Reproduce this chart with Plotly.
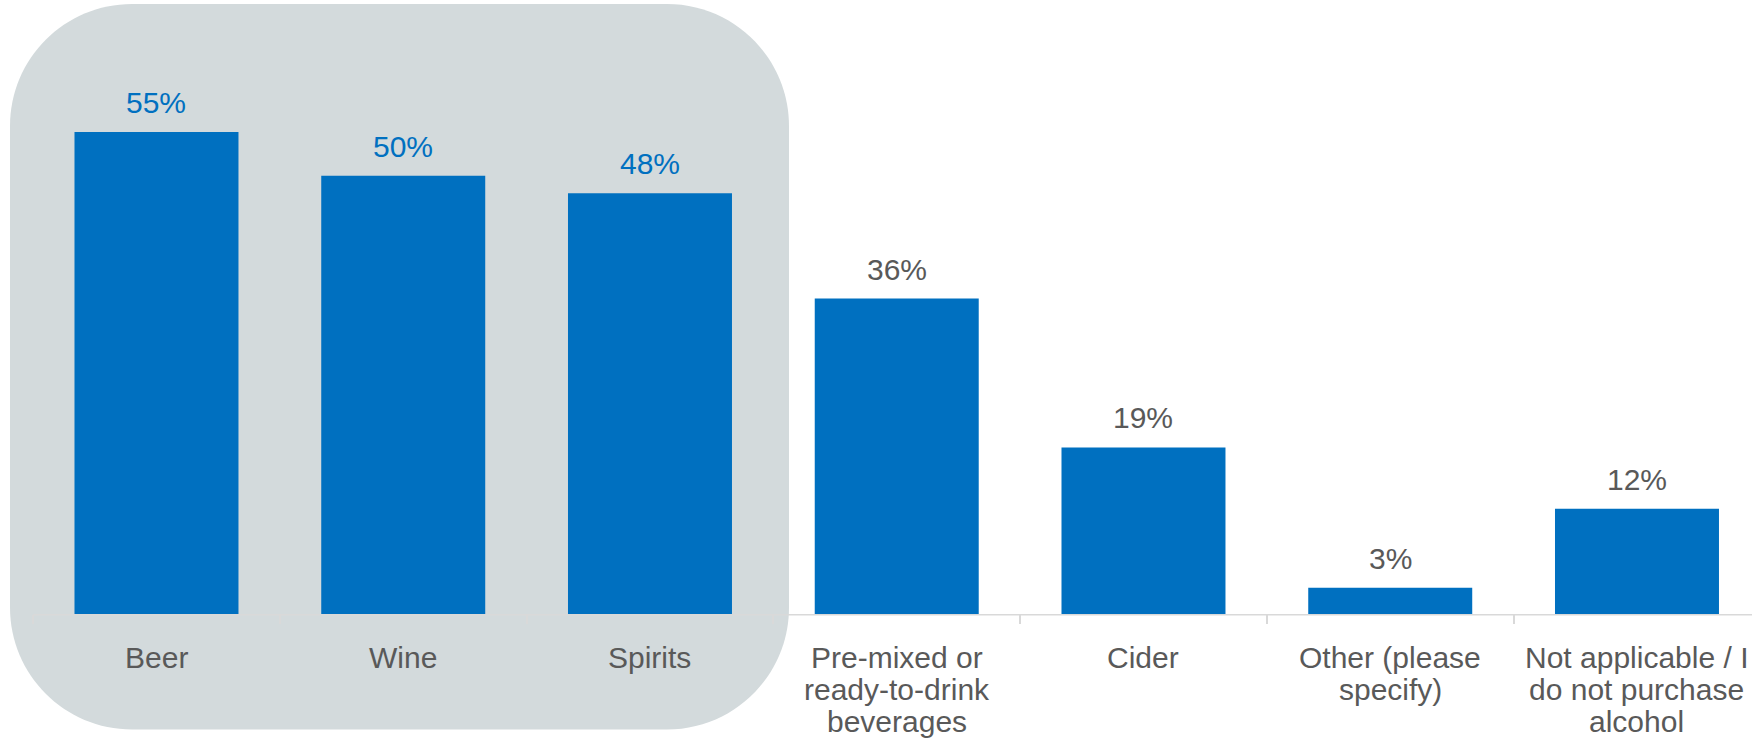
import plotly.graph_objects as go

# Survey data: share of respondents purchasing each drink type
categories = [
    "Beer",
    "Wine",
    "Spirits",
    "Pre-mixed or\nready-to-drink\nbeverages",
    "Cider",
    "Other (please\nspecify)",
    "Not applicable / I\ndo not purchase\nalcohol",
]
values = [55, 50, 48, 36, 19, 3, 12]
highlighted = [True, True, True, False, False, False, False]

BLUE = "#0070C0"
GREY_TEXT = "#595959"
AXIS_GREY = "#D9D9D9"
PANEL = "#D3DADC"
FONT = "Liberation Sans, Arial, sans-serif"

W, H = 1752, 750
MB = 136
PLOT_H = H - MB

keys = [c.replace("\n", " ") for c in categories]

fig = go.Figure()
fig.add_trace(go.Bar(
    x=keys,
    y=values,
    marker=dict(color=BLUE, line=dict(width=0)),
    hoverinfo="skip",
))

# value labels above bars
for k, v, hi in zip(keys, values, highlighted):
    fig.add_annotation(
        x=k, y=v, xref="x", yref="y",
        text=f"{v}%", showarrow=False,
        xanchor="center", yanchor="bottom", yshift=11,
        font=dict(family=FONT, size=30, color=BLUE if hi else GREY_TEXT),
    )

# category labels, one annotation per line for tight line spacing
for k, c in zip(keys, categories):
    for i, line in enumerate(c.split("\n")):
        fig.add_annotation(
            x=k, y=0, xref="x", yref="paper",
            text=line, showarrow=False,
            xanchor="center", yanchor="top", yshift=-(24.5 + i * 32.3),
            font=dict(family=FONT, size=30, color=GREY_TEXT),
        )


# rounded highlight panel behind the first three bars
def rounded_rect(x0, y0, x1, y1, r):
    k = 0.5523 * r

    def p(x, y):
        return f"{x / W:.6f},{(PLOT_H - y) / PLOT_H:.6f}"

    return (
        f"M {p(x0 + r, y0)} L {p(x1 - r, y0)} "
        f"C {p(x1 - r + k, y0)} {p(x1, y0 + r - k)} {p(x1, y0 + r)} "
        f"L {p(x1, y1 - r)} "
        f"C {p(x1, y1 - r + k)} {p(x1 - r + k, y1)} {p(x1 - r, y1)} "
        f"L {p(x0 + r, y1)} "
        f"C {p(x0 + r - k, y1)} {p(x0, y1 - r + k)} {p(x0, y1 - r)} "
        f"L {p(x0, y0 + r)} "
        f"C {p(x0, y0 + r - k)} {p(x0 + r - k, y0)} {p(x0 + r, y0)} Z"
    )


fig.add_shape(
    type="path", xref="paper", yref="paper",
    path=rounded_rect(10, 4, 789, 729.5, 122),
    fillcolor=PANEL, line=dict(width=0), layer="below",
)

# category axis baseline spanning the category boundaries
fig.add_shape(
    type="line", xref="x", yref="paper",
    x0=-0.5, x1=len(keys) - 0.5,
    y0=-0.75 / PLOT_H, y1=-0.75 / PLOT_H,
    line=dict(color=AXIS_GREY, width=1.5), layer="between",
)

fig.update_layout(
    width=W, height=H,
    margin=dict(l=0, r=0, t=0, b=MB, pad=0),
    paper_bgcolor="white", plot_bgcolor="rgba(0,0,0,0)",
    showlegend=False,
    bargap=0.3354,
    font=dict(family=FONT),
)
fig.update_xaxes(
    type="category",
    range=[-0.6342, 6.4661],
    showticklabels=False,
    showgrid=False, zeroline=False, showline=False,
    ticks="outside", tickson="boundaries", ticklen=9, tickwidth=1.5,
    tickcolor=AXIS_GREY,
)
fig.update_yaxes(
    range=[0, PLOT_H / 8.764],
    visible=False, showgrid=False, zeroline=False,
)

fig.write_html("out.html")
